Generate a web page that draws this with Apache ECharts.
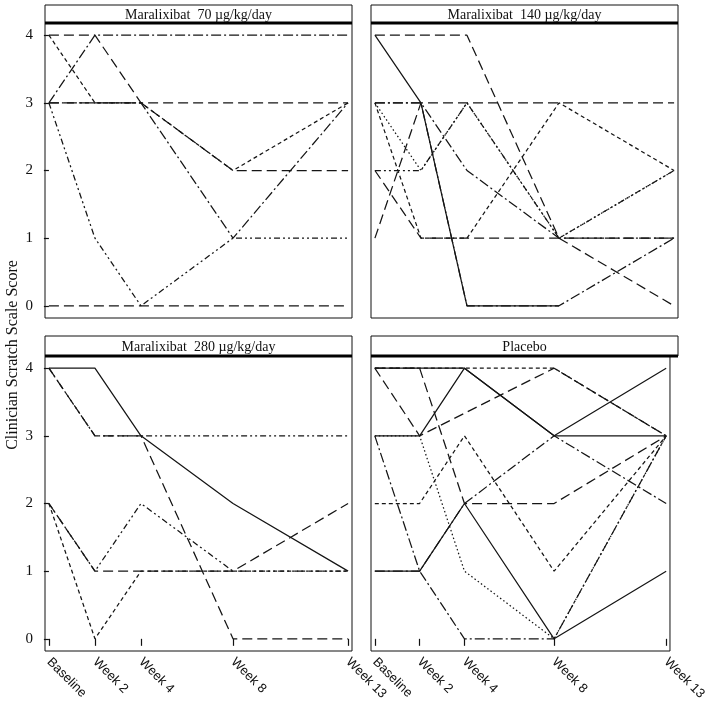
<!DOCTYPE html>
<html>
<head>
<meta charset="utf-8">
<script src="https://cdn.jsdelivr.net/npm/echarts@6/dist/echarts.min.js"></script>
<style>html,body{margin:0;padding:0;background:#fff}#c{width:709px;height:710px}</style>
</head>
<body>
<div id="c"></div>
<script>
// ---- data ----
const weeks = [0, 2, 4, 8, 13];
const weekLabels = ['Baseline', 'Week 2', 'Week 4', 'Week 8', 'Week 13'];
const yTicks = [0, 1, 2, 3, 4];
const panelTitles = ['Maralixibat  70 \u00b5g/kg/day', 'Maralixibat  140 \u00b5g/kg/day', 'Maralixibat  280 \u00b5g/kg/day', 'Placebo'];
const yTitle = 'Clinician Scratch Scale Score';

// scores per patient at Baseline, Week 2, Week 4, Week 8, Week 13
const dose70 = [
  [0, 0, 0, 0, 0],
  [3, 1, 0, 1, 1],
  [3, 4, 4, 4, 4],
  [4, 4, 3, 3, 3],
  [3, 3, 3, 2, 2],
  [4, 3, 3, 2, 3],
  [3, 3, 3, 1, 3]
];
const dose140 = [
  [4, 4, 4, 1, 0],
  [4, 3, 0, 0, null],
  [3, 3, 0, 0, 1],
  [1, 3, 3, 3, 3],
  [3, 3, 2, 1, 1],
  [3, 1, 1, 3, 2],
  [3, 2, 3, 1, 2],
  [2, 2, 3, 1, 2],
  [2, 1, 1, 1, 1]
];
const dose280 = [
  [4, 4, 3, 2, 1],
  [4, 3, 3, 0, 0],
  [4, 3, 3, 3, 3],
  [2, 0, 1, 1, 1],
  [2, 1, 2, 1, 1],
  [2, 1, 1, 1, 2]
];
const placebo = [
  [4, 4, 4, 3, 3],
  [4, 4, 4, 4, 3],
  [4, 3, null, 4, 3],
  [3, 3, 4, 3, 4],
  [4, 4, 2, 2, 3],
  [3, 1, 0, 0, 3],
  [2, 2, 3, 1, 3],
  [1, 1, 2, 3, 2],
  [3, 3, 1, 0, 3],
  [1, 1, 2, 0, 1]
];

// ---- styling ----
const dashes = {
  solid: 'solid',
  long: [10, 5],
  short: [4, 3],
  dashdot: [10, 3, 2, 3],
  dashdotdot: [6, 3, 2, 3, 2, 3],
  dot: [1.5, 2.5]
};
const panelDash = [
  ['long', 'dashdotdot', 'dashdot', 'long', 'long', 'short', 'dashdot'],
  ['long', 'solid', 'dashdot', 'long', 'dashdot', 'short', 'dot', 'dashdotdot', 'long'],
  ['solid', 'long', 'dashdotdot', 'short', 'dashdotdot', 'long'],
  ['solid', 'short', 'long', 'solid', 'long', 'dashdot', 'short', 'dashdot', 'dot', 'solid']
];
const panels = [dose70, dose140, dose280, placebo];

const serif = 'Liberation Serif';
const sans = 'Liberation Sans';
const boxes = [
  { left: 45, top: 23, stripTop: 5 },
  { left: 371, top: 23, stripTop: 5 },
  { left: 45, top: 356, stripTop: 336 },
  { left: 371, top: 356, stripTop: 336 }
];
const W = 307, H = 295;

const grids = [], xAxes = [], yAxes = [], series = [], graphics = [];
boxes.forEach((b, i) => {
  const isBottom = i >= 2, isLeft = i % 2 === 0;
  grids.push({ left: b.left, top: b.top, width: W, height: H, show: true, borderColor: '#111', borderWidth: 1, backgroundColor: 'transparent' });
  xAxes.push({
    type: 'value', gridIndex: i, min: -0.17, max: 13.17,
    axisLine: { show: false }, splitLine: { show: false },
    axisTick: { show: isBottom, customValues: weeks, length: 7, lineStyle: { color: '#111', width: 1.2 } },
    axisLabel: {
      show: isBottom, customValues: weeks, rotate: -45, margin: 9,
      fontFamily: sans, fontSize: 13, color: '#111',
      formatter: v => weekLabels[weeks.indexOf(v)]
    }
  });
  yAxes.push({
    type: 'value', gridIndex: i, min: -0.18, max: 4.18,
    axisLine: { show: false }, splitLine: { show: false },
    axisTick: { show: isLeft, customValues: yTicks, length: 5, lineStyle: { color: '#111', width: 1.2 } },
    axisLabel: { show: isLeft, customValues: yTicks, margin: 12, fontFamily: serif, fontSize: 15, color: '#111' }
  });
  const dashList = panelDash[i];
  panels[i].forEach((pt, k) => {
    series.push({
      type: 'line', xAxisIndex: i, yAxisIndex: i,
      data: pt.map((v, j) => [weeks[j], v]),
      showSymbol: false, symbol: 'none', connectNulls: true, animation: false,
      lineStyle: { color: '#151515', width: 1.25, type: dashes[dashList[k]] }
    });
  });
  const sh = b.top - b.stripTop;
  graphics.push({ type: 'rect', shape: { x: b.left, y: b.stripTop, width: W, height: sh }, style: { fill: '#fff', stroke: '#111', lineWidth: 1 } });
  graphics.push({ type: 'line', shape: { x1: b.left, y1: b.top, x2: b.left + W, y2: b.top }, style: { stroke: '#000', lineWidth: 3 } });
  graphics.push({ type: 'text', x: b.left + W / 2, y: b.stripTop + sh / 2 + 1, style: { text: panelTitles[i], fontFamily: serif, fontSize: 14, fill: '#111', align: 'center', verticalAlign: 'middle' } });
});
graphics.push({ type: 'text', x: 13, y: 355, rotation: Math.PI / 2, style: { text: yTitle, fontFamily: serif, fontSize: 16, fill: '#111', align: 'center', verticalAlign: 'middle' } });

const chart = echarts.init(document.getElementById('c'), null, { renderer: 'canvas' });
chart.setOption({
  animation: false,
  backgroundColor: '#fff',
  grid: grids, xAxis: xAxes, yAxis: yAxes, series: series,
  graphic: graphics
});
</script>
</body>
</html>
